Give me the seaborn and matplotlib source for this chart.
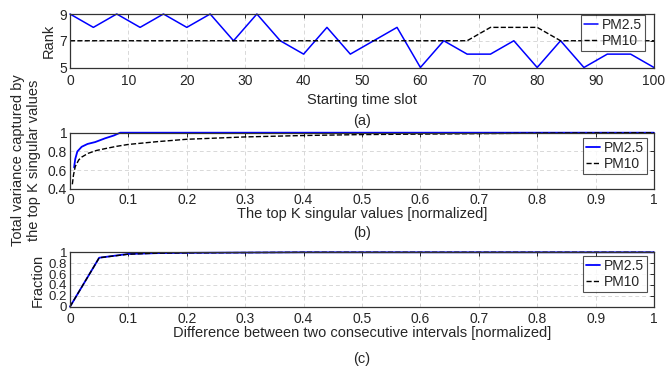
import matplotlib
matplotlib.use("Agg")
import matplotlib.pyplot as plt
import seaborn as sns
import numpy as np

# ---- data (a) ----
slot = [0, 4, 8, 12, 16, 20, 24, 28, 32, 36, 40, 44, 48, 52, 56, 60, 64, 68, 72, 76, 80, 84, 88, 92, 96, 100]
rank_pm25 = [9, 8, 9, 8, 9, 8, 9, 7, 9, 7, 6, 8, 6, 7, 8, 5, 7, 6, 6, 7, 5, 7, 5, 6, 6, 5]
rank_pm10 = [7, 7, 7, 7, 7, 7, 7, 7, 7, 7, 7, 7, 7, 7, 7, 7, 7, 7, 8, 8, 8, 7, 7, 7, 7, 7]

# ---- data (b) ----
k_pm25 = [0.007, 0.009, 0.0126, 0.02, 0.03, 0.043, 0.06, 0.075, 0.086, 0.2, 0.5, 1.0]
var_pm25 = [0.63, 0.72, 0.80, 0.85, 0.88, 0.90, 0.94, 0.97, 1.0, 1.0, 1.0, 1.0]
k_pm10 = [0.004, 0.006, 0.009, 0.015, 0.02, 0.031, 0.045, 0.06, 0.08, 0.1, 0.15, 0.2,
          0.3, 0.4, 0.5, 0.6, 0.7, 0.8, 0.9, 1.0]
var_pm10 = [0.45, 0.55, 0.64, 0.71, 0.74, 0.78, 0.81, 0.83, 0.855, 0.875, 0.905, 0.93,
            0.955, 0.97, 0.98, 0.985, 0.99, 0.995, 0.998, 1.0]

# ---- data (c) ----
diff_x = [0, 0.05, 0.1, 0.15, 0.2, 0.3, 0.4, 0.5, 0.6, 0.7, 0.8, 0.9, 1.0]
frac_pm25 = [0, 0.90, 0.97, 0.985, 0.99, 0.995, 1.0, 1.0, 1.0, 1.0, 1.0, 1.0, 1.0]
frac_pm10 = [0, 0.90, 0.965, 0.985, 0.99, 0.995, 1.0, 1.0, 1.0, 1.0, 1.0, 1.0, 1.0]

xticks01 = [0, 0.1, 0.2, 0.3, 0.4, 0.5, 0.6, 0.7, 0.8, 0.9, 1.0]
xtick01_labels = ['0', '0.1', '0.2', '0.3', '0.4', '0.5', '0.6', '0.7', '0.8', '0.9', '1']

sns.set_style("white")
plt.rcParams['font.family'] = ['Liberation Sans', 'DejaVu Sans']

FW, FH = 665, 368
fig = plt.figure(figsize=(FW/100, FH/100), dpi=100)

def fx(px):
    return px / FW

def fy(py):
    return 1 - py / FH

def axes_px(left, top, right, bottom):
    return fig.add_axes([fx(left), fy(bottom), (right-left)/FW, (bottom-top)/FH])

ax1 = axes_px(70, 14, 654, 67.5)
ax2 = axes_px(70, 132.7, 654, 189)
ax3 = axes_px(70, 252.3, 654, 306.7)

blue = '#0000ff'
TICK_FS = 10
LAB_FS = 10.5
LEG_FS = 10

def style(ax):
    ax.grid(True, color='#d8d8d8', linestyle=(0, (4, 3)), linewidth=0.7)
    for s in ax.spines.values():
        s.set_color('#333333')
        s.set_linewidth(0.9)
    ax.tick_params(direction='in', length=3, width=0.7, top=True, right=True,
                   labelsize=TICK_FS, colors='#262626')
    ax.tick_params(axis='x', pad=5)
    ax.tick_params(axis='y', pad=2)

legends = []

def legend(ax, right_px, top_px):
    leg = ax.legend(loc='upper right', bbox_to_anchor=(fx(right_px), fy(top_px)),
                    bbox_transform=fig.transFigure, fontsize=LEG_FS, frameon=True,
                    fancybox=False, edgecolor='#262626', borderpad=0.2,
                    handlelength=1.0, handletextpad=0.3, labelspacing=0.15,
                    borderaxespad=0)
    leg.get_frame().set_linewidth(0.8)
    legends.append((leg, right_px, top_px))

def xlabel_at(ax, text, ypx):
    ax.set_xlabel(text, fontsize=LAB_FS, color='#262626')
    ax.xaxis.set_label_coords(fx(362), fy(ypx), transform=fig.transFigure)
    ax.xaxis.label.set_va('center')

def ylabel_at(ax, text, xpx, ypx):
    ax.set_ylabel(text, fontsize=LAB_FS, color='#262626')
    ax.yaxis.set_label_coords(fx(xpx), fy(ypx), transform=fig.transFigure)
    ax.yaxis.label.set_va('center')

# (a)
sns.lineplot(x=slot, y=rank_pm25, ax=ax1, color=blue, lw=1.1, label='PM2.5', clip_on=False)
sns.lineplot(x=slot, y=rank_pm10, ax=ax1, color='black', lw=1.0, linestyle='--', label='PM10', clip_on=False)
ax1.set_xlim(0, 100)
ax1.set_ylim(5, 9)
ax1.set_xticks(range(0, 101, 10))
ax1.set_yticks([5, 7, 9])
style(ax1)
xlabel_at(ax1, 'Starting time slot', 100)
ylabel_at(ax1, 'Rank', 49, 41)
legend(ax1, 645, 15)
fig.text(fx(362), fy(121), '(a)', ha='center', va='center', fontsize=LAB_FS, color='#262626')

# (b)
sns.lineplot(x=k_pm25, y=var_pm25, ax=ax2, color=blue, lw=1.3, label='PM2.5', clip_on=False)
sns.lineplot(x=k_pm10, y=var_pm10, ax=ax2, color='black', lw=1.0, linestyle='--', label='PM10', clip_on=False)
ax2.set_xlim(0, 1)
ax2.set_ylim(0.4, 1)
ax2.set_xticks(xticks01)
ax2.set_xticklabels(xtick01_labels)
ax2.set_yticks([0.4, 0.6, 0.8, 1.0])
ax2.set_yticklabels(['0.4', '0.6', '0.8', '1'])
style(ax2)
ax2.tick_params(axis='x', pad=3)
xlabel_at(ax2, 'The top K singular values [normalized]', 214)
legend(ax2, 647, 138)
fig.text(fx(362), fy(233), '(b)', ha='center', va='center', fontsize=LAB_FS, color='#262626')
fig.text(fx(26), fy(160), 'Total variance captured by\nthe top K singular values',
         rotation=90, ha='center', va='center', fontsize=LAB_FS, linespacing=1.1,
         color='#262626')

# (c)
sns.lineplot(x=diff_x, y=frac_pm25, ax=ax3, color=blue, lw=1.3, label='PM2.5', clip_on=False)
sns.lineplot(x=diff_x, y=frac_pm10, ax=ax3, color='black', lw=1.0, linestyle='--', label='PM10', clip_on=False)
ax3.set_xlim(0, 1)
ax3.set_ylim(0, 1)
ax3.set_xticks(xticks01)
ax3.set_xticklabels(xtick01_labels)
ax3.set_yticks([0, 0.2, 0.4, 0.6, 0.8, 1.0])
ax3.set_yticklabels(['0', '0.2', '0.4', '0.6', '0.8', '1'])
style(ax3)
ax3.tick_params(axis='y', labelsize=9.5)
ax3.tick_params(axis='x', pad=4)
xlabel_at(ax3, 'Difference between two consecutive intervals [normalized]', 333.5)
ylabel_at(ax3, 'Fraction', 38, 280)
legend(ax3, 647, 256)
fig.text(fx(362), fy(359), '(c)', ha='center', va='center', fontsize=LAB_FS, color='#262626')

# snap legend frames to the wanted pixel corner
fig.canvas.draw()
for leg, rpx, tpx in legends:
    bb = leg.get_frame().get_window_extent()
    dx = rpx - bb.x1
    dy = (FH - tpx) - bb.y1
    leg.set_bbox_to_anchor((fx(rpx + dx), fy(tpx - dy)), transform=fig.transFigure)

fig.savefig('out.png', dpi=100)
